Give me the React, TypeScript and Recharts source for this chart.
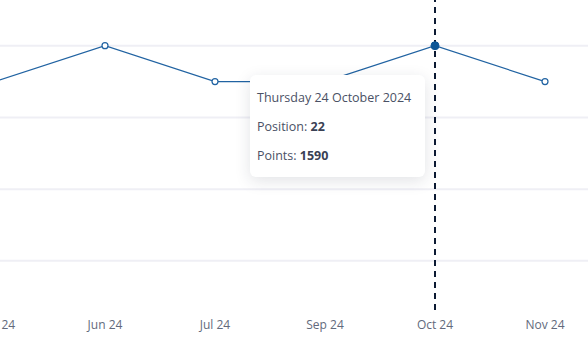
import React from 'react';
import { CartesianGrid, Line, LineChart, ReferenceLine, XAxis, YAxis } from 'recharts';

const months = ['May 24', 'Jun 24', 'Jul 24', 'Sep 24', 'Oct 24', 'Nov 24'];
const dates = [
    'Thursday 23 May 2024',
    'Thursday 20 June 2024',
    'Thursday 18 July 2024',
    'Thursday 19 September 2024',
    'Thursday 24 October 2024',
    'Thursday 21 November 2024',
];
const positions = [23, 22, 23, 23, 22, 23];
const points = [1310, 1380, 1440, 1520, 1590, 1640];
const yTicks = [20, 22, 24, 26, 28];
const activeIdx = 4;

const data = months.map((m, i) => ({
    month: m,
    date: dates[i],
    position: positions[i],
    points: points[i],
}));

const font = '"Open Sans", "Noto Sans", sans-serif';
const lineColor = '#2163a2';

// static tooltip, the hover state can't be triggered in a screenshot
const TipBox = ({ idx }: { idx: number }) => {
    const row = { lineHeight: '16px', margin: 0 };

    return (
        <div
            style={{
                position: 'absolute',
                left: 250,
                top: 75,
                width: 175,
                boxSizing: 'border-box',
                padding: '15px 8px 13px 7px',
                background: '#fff',
                borderRadius: 6,
                boxShadow: '0 4px 16px rgba(30, 35, 60, 0.13)',
                fontFamily: font,
                fontSize: 12.5,
                whiteSpace: 'nowrap',
                color: '#4a5165',
            }}
        >
            <div style={{ ...row, marginBottom: 13 }}>{dates[idx]}</div>
            <div style={{ ...row, marginBottom: 13 }}>
                Position: <b style={{ color: '#3a4154' }}>{positions[idx]}</b>
            </div>
            <div style={row}>
                Points: <b style={{ color: '#3a4154' }}>{points[idx]}</b>
            </div>
        </div>
    );
};

const Dot = (props: any) => {
    const { cx, cy, index } = props;
    if (index === activeIdx) {
        return <circle key={index} cx={cx} cy={cy} r={4} fill="#0d5696" stroke="#0d5696" />;
    }
    return (
        <circle
            key={index}
            cx={cx}
            cy={cy}
            r={3}
            fill="#fff"
            stroke={lineColor}
            strokeWidth={1.2}
        />
    );
};

export default function App() {
    return (
        <div
            style={{
                position: 'absolute',
                left: 0,
                top: 0,
                width: 588,
                height: 355,
                overflow: 'hidden',
                background: '#fff',
            }}
        >
            <div style={{ position: 'absolute', left: -5, top: -26 }}>
                <LineChart
                    width={593}
                    height={366}
                    data={data}
                    margin={{ top: 0, right: 0, bottom: 0, left: 0 }}
                >
                    <CartesianGrid
                        vertical={false}
                        syncWithTicks
                        stroke="#efeff5"
                        strokeWidth={2}
                    />

                    <YAxis
                        hide
                        reversed
                        type="number"
                        domain={[20, 29.37]}
                        ticks={yTicks}
                    />

                    <XAxis
                        dataKey="month"
                        axisLine={false}
                        tickLine={false}
                        tickMargin={4}
                        interval={0}
                        padding={{ left: 0, right: 43 }}
                        tick={{ fill: '#626a7c', fontSize: 12, fontFamily: font }}
                    />

                    <ReferenceLine
                        x={months[activeIdx]}
                        stroke="#0c1a33"
                        strokeWidth={2}
                        strokeDasharray="6 5"
                    />

                    <Line
                        type="linear"
                        dataKey="position"
                        stroke={lineColor}
                        strokeWidth={1.2}
                        dot={Dot}
                        isAnimationActive={false}
                    />
                </LineChart>
            </div>
            <TipBox idx={activeIdx} />
        </div>
    );
}
